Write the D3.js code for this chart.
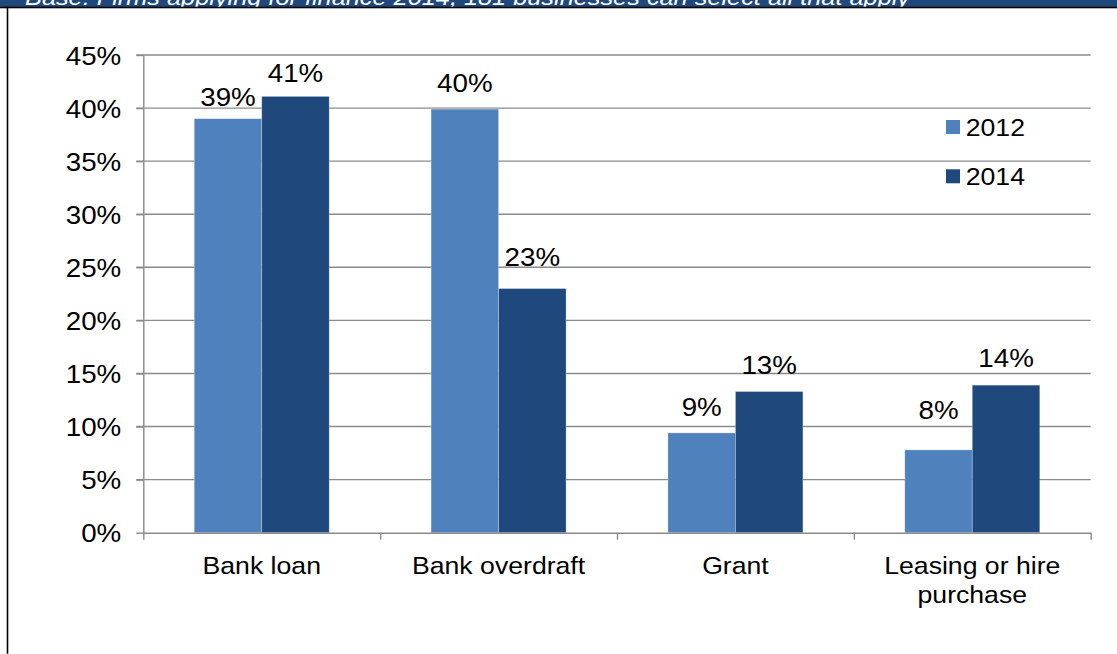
<!DOCTYPE html>
<html>
<head>
<meta charset="utf-8">
<script src="https://cdn.jsdelivr.net/npm/d3@7"></script>
<style>
  html, body { margin: 0; padding: 0; background: #fff; }
  svg { display: block; }
  text { font-family: Arial, "Liberation Sans", sans-serif; fill: #000; }
</style>
</head>
<body>
<svg id="chart" width="1117" height="654"></svg>
<script>
// Finance types applied for, share of firms by survey year
const categories = [["Bank loan"], ["Bank overdraft"], ["Grant"], ["Leasing or hire", "purchase"]];
const seriesNames = ["2012", "2014"];
const values2012 = [39.0, 39.9, 9.4, 7.8];
const values2014 = [41.1, 23.0, 13.3, 13.9];
const yTicks = [0, 5, 10, 15, 20, 25, 30, 35, 40, 45];
const headerText = "Base: Firms applying for finance 2014, 181 businesses can select all that apply";

// Presentation settings
const colors = { "2012": "#4F81BD", "2014": "#1F497D" };
const labelGap = { "2012": [13, 17, 17, 31], "2014": [14, 23, 18, 18] };
const stretch = 1.11;            // horizontal stretch applied to all chart text
const plot = { left: 143.3, right: 1090.7, top: 55, bottom: 532.7 };
const gridColor = "#8a8a8a";

const svg = d3.select("#chart");

// Header band and frame
svg.append("rect").attr("x", 0).attr("y", 0).attr("width", 1117).attr("height", 7)
  .attr("fill", "#1F497D");
svg.append("text")
  .attr("x", 25).attr("y", 4.5)
  .attr("textLength", 885).attr("lengthAdjust", "spacingAndGlyphs")
  .style("font-size", "22px").style("font-style", "italic").style("fill", "#fff")
  .text(headerText);
svg.append("rect").attr("x", 0).attr("y", 6.7).attr("width", 1117).attr("height", 1.6).attr("fill", "#000");
svg.append("rect").attr("x", 6.7).attr("y", 6.7).attr("width", 1.6).attr("height", 647).attr("fill", "#000");

const catKeys = categories.map(c => c.join(" "));
const data = catKeys.map((k, i) => ({ key: k, lines: categories[i], "2012": values2012[i], "2014": values2014[i], idx: i }));

const x0 = d3.scaleBand().domain(catKeys).range([plot.left, plot.right])
  .paddingInner(0.43).paddingOuter(0.215);
const x1 = d3.scaleBand().domain(seriesNames).range([0, x0.bandwidth()]);
const y = d3.scaleLinear().domain([0, 45]).range([plot.bottom, plot.top]);

// Horizontal gridlines
svg.append("g")
  .selectAll("line")
  .data(yTicks.filter(t => t > 0))
  .join("line")
  .attr("x1", plot.left - 7).attr("x2", plot.right)
  .attr("y1", d => y(d)).attr("y2", d => y(d))
  .attr("stroke", gridColor).attr("stroke-width", 1.4);

// Y axis
const yAxis = svg.append("g")
  .attr("transform", `translate(${plot.left},0)`)
  .call(d3.axisLeft(y).tickValues(yTicks).tickFormat(d => d + "%").tickSize(7).tickSizeOuter(0));
yAxis.select(".domain").attr("stroke", gridColor).attr("stroke-width", 1.4);
yAxis.selectAll(".tick line").attr("stroke", gridColor).attr("stroke-width", 1.4);
yAxis.selectAll(".tick text")
  .attr("x", 0).attr("dy", "0.36em")
  .attr("transform", `translate(-22,0) scale(${stretch},1)`)
  .style("font-size", "25px").style("font-family", "Arial, 'Liberation Sans', sans-serif")
  .attr("fill", "#000");

// Bars
const groups = svg.append("g").selectAll("g")
  .data(data)
  .join("g")
  .attr("transform", d => `translate(${x0(d.key)},0)`);

groups.selectAll("rect")
  .data(d => seriesNames.map(s => ({ s, v: d[s], idx: d.idx })))
  .join("rect")
  .attr("x", d => x1(d.s))
  .attr("width", x1.bandwidth())
  .attr("y", d => y(d.v))
  .attr("height", d => y(0) - y(d.v))
  .attr("fill", d => colors[d.s])
  .attr("stroke", "#ffffff").attr("stroke-opacity", 0.35).attr("stroke-width", 0.8);

// Value labels
groups.selectAll("text.val")
  .data(d => seriesNames.map(s => ({ s, v: d[s], idx: d.idx })))
  .join("text")
  .attr("class", "val")
  .attr("text-anchor", "middle")
  .attr("transform", d => `translate(${x1(d.s) + x1.bandwidth() / 2},${y(d.v) - labelGap[d.s][d.idx]}) scale(${stretch},1)`)
  .style("font-size", "25px")
  .text(d => Math.round(d.v) + "%");

// X axis line with boundary ticks
const xEdge = d3.scaleLinear().domain([0, catKeys.length]).range([plot.left, plot.right]);
const xAxis = svg.append("g")
  .attr("transform", `translate(0,${plot.bottom})`)
  .call(d3.axisBottom(xEdge).tickValues(d3.range(0, catKeys.length + 1)).tickFormat("").tickSize(7).tickSizeOuter(0));
xAxis.select(".domain").attr("stroke", gridColor).attr("stroke-width", 1.4);
xAxis.selectAll(".tick line").attr("stroke", gridColor).attr("stroke-width", 1.4);

// Category labels
const catLabels = svg.append("g").selectAll("text")
  .data(data)
  .join("text")
  .attr("text-anchor", "middle")
  .attr("transform", d => `translate(${x0(d.key) + x0.bandwidth() / 2},574) scale(${stretch},1)`)
  .style("font-size", "24px");
catLabels.selectAll("tspan")
  .data(d => d.lines)
  .join("tspan")
  .attr("x", 0)
  .attr("y", (d, i) => i * 29)
  .text(d => d);

// Legend
const legend = svg.append("g").selectAll("g")
  .data(seriesNames)
  .join("g")
  .attr("transform", (d, i) => `translate(946,${120 + i * 49.3})`);
legend.append("rect").attr("width", 14).attr("height", 14).attr("fill", d => colors[d]);
legend.append("text")
  .attr("transform", `translate(19.7,15.7) scale(${stretch},1)`)
  .style("font-size", "24px")
  .text(d => d);
</script>
</body>
</html>
